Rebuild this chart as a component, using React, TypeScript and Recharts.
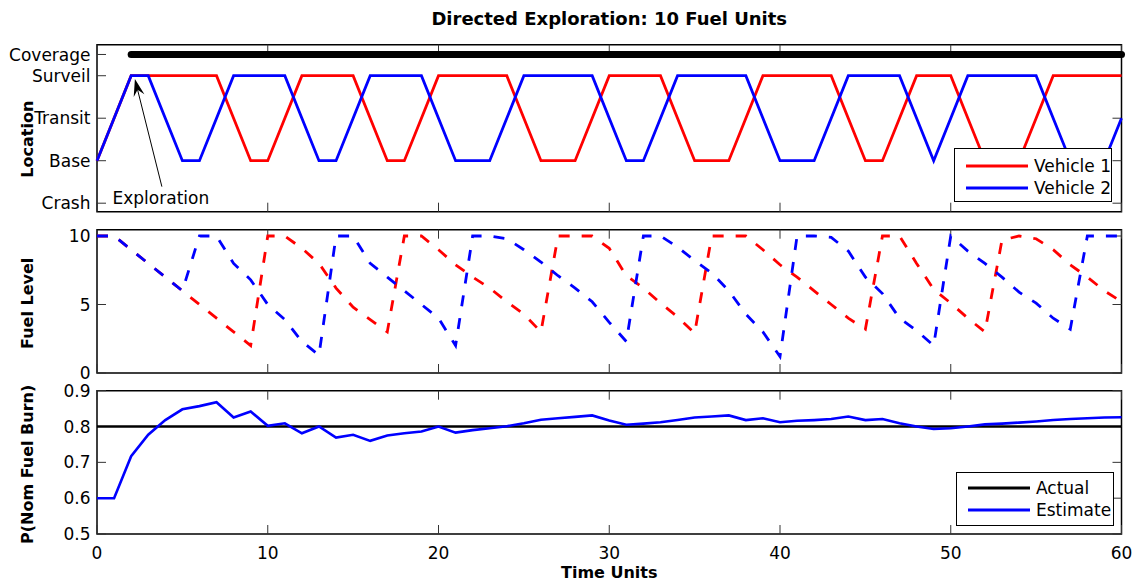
import React from "react";
import { LineChart, Line, XAxis, YAxis, Legend, ReferenceLine, ReferenceArea } from "recharts";

const FONT = "'DejaVu Sans', sans-serif";

// ---- data ----
const time = [
  0, 1, 2, 3, 4, 5, 6, 7, 8, 9, 10, 11, 12, 13, 14, 15, 16, 17, 18, 19, 20,
  21, 22, 23, 24, 25, 26, 27, 28, 29, 30, 31, 32, 33, 34, 35, 36, 37, 38, 39,
  40, 41, 42, 43, 44, 45, 46, 47, 48, 49, 50, 51, 52, 53, 54, 55, 56, 57, 58,
  59, 60,
];

// 0 = Crash, 1 = Base, 2 = Transit, 3 = Surveil
const vehicle1Location = [
  1, 2, 3, 3, 3, 3, 3, 3, 2, 1,
  1, 2, 3, 3, 3, 3, 2, 1, 1, 2,
  3, 3, 3, 3, 3, 2, 1, 1, 1, 2,
  3, 3, 3, 3, 2, 1, 1, 1, 2, 3,
  3, 3, 3, 3, 2, 1, 1, 2, 3, 3,
  3, 2, 1, 1, 1, 2, 3, 3, 3, 3,
  3,
];
const vehicle2Location = [
  1, 2, 3, 3, 2, 1, 1, 2, 3, 3,
  3, 3, 2, 1, 1, 2, 3, 3, 3, 3,
  2, 1, 1, 1, 2, 3, 3, 3, 3, 3,
  2, 1, 1, 2, 3, 3, 3, 3, 3, 2,
  1, 1, 1, 2, 3, 3, 3, 3, 2, 1,
  2, 3, 3, 3, 3, 3, 2, 1, 1, 1,
  2,
];
const coverage = [
  null, null, 3.5, 3.5, 3.5, 3.5, 3.5, 3.5, 3.5, 3.5,
  3.5, 3.5, 3.5, 3.5, 3.5, 3.5, 3.5, 3.5, 3.5, 3.5,
  3.5, 3.5, 3.5, 3.5, 3.5, 3.5, 3.5, 3.5, 3.5, 3.5,
  3.5, 3.5, 3.5, 3.5, 3.5, 3.5, 3.5, 3.5, 3.5, 3.5,
  3.5, 3.5, 3.5, 3.5, 3.5, 3.5, 3.5, 3.5, 3.5, 3.5,
  3.5, 3.5, 3.5, 3.5, 3.5, 3.5, 3.5, 3.5, 3.5, 3.5,
  3.5,
];

const vehicle1Fuel = [
  10, 10, 9, 8, 7, 6, 5, 4, 3, 2,
  10, 10, 9.1, 8, 6.2, 4.8, 3.9, 3, 10, 10,
  9, 7.9, 7, 6.2, 5.2, 4.3, 3, 10, 10, 10,
  9.1, 7.1, 6.2, 5.1, 4.1, 2.9, 10, 10, 10, 9,
  7.9, 7, 6, 5, 4, 3.2, 10, 10, 8, 6.1,
  5.1, 4, 3, 9.7, 10, 9.8, 9, 7.9, 7, 6,
  5.2,
];
const vehicle2Fuel = [
  10, 10, 9, 8, 7, 6, 10, 10, 8, 6.8,
  5, 3.9, 2.3, 1.3, 10, 10, 8, 7, 6, 5,
  4, 2, 10, 10, 9.8, 9, 8.1, 7.1, 6.2, 5.2,
  3.7, 2.3, 10, 10, 9.2, 8.2, 7.3, 6, 4.3, 3,
  1.2, 10, 10, 9.9, 8.9, 7, 5.8, 4, 3.1, 2,
  10, 8.9, 8, 7, 5.9, 5.1, 4, 3.2, 10, 10,
  10,
];

const actualBurn = [
  0.8, 0.8, 0.8, 0.8, 0.8, 0.8, 0.8, 0.8, 0.8, 0.8,
  0.8, 0.8, 0.8, 0.8, 0.8, 0.8, 0.8, 0.8, 0.8, 0.8,
  0.8, 0.8, 0.8, 0.8, 0.8, 0.8, 0.8, 0.8, 0.8, 0.8,
  0.8, 0.8, 0.8, 0.8, 0.8, 0.8, 0.8, 0.8, 0.8, 0.8,
  0.8, 0.8, 0.8, 0.8, 0.8, 0.8, 0.8, 0.8, 0.8, 0.8,
  0.8, 0.8, 0.8, 0.8, 0.8, 0.8, 0.8, 0.8, 0.8, 0.8,
  0.8,
];
const estimatedBurn = [
  0.6, 0.6, 0.717, 0.777, 0.818, 0.848, 0.857, 0.868, 0.825, 0.842,
  0.802, 0.809, 0.781, 0.8, 0.769, 0.777, 0.76, 0.775, 0.781, 0.786,
  0.8, 0.783, 0.79, 0.795, 0.801, 0.809, 0.819, 0.823, 0.827, 0.831,
  0.817, 0.805, 0.808, 0.812, 0.818, 0.825, 0.828, 0.831, 0.818, 0.823,
  0.812, 0.816, 0.818, 0.821, 0.828, 0.818, 0.821, 0.809, 0.8, 0.793,
  0.795, 0.8, 0.806, 0.808, 0.811, 0.814, 0.818, 0.821, 0.823, 0.825,
  0.826,
];

const timeTicks = [0, 10, 20, 30, 40, 50, 60];
const locationTicks = [0, 1, 2, 3, 3.5];
const locationNames = ["Crash", "Base", "Transit", "Surveil", "Coverage"];
const fuelTicks = [0, 5, 10];
const burnTicks = [0.5, 0.6, 0.7, 0.8, 0.9];

const timeDomain = [0, 60];
const locationDomain = [-0.2, 3.73];
const fuelDomain = [0, 10.46];
const burnDomain = [0.5, 0.9];

// annotation anchor points, in data units (time, location)
const explorationTail = { x: 3.8, y: 0.39 };
const explorationTip = { x: 2.22, y: 2.92 };

const locationRows = time.map((t, i) => ({
  t,
  v1: vehicle1Location[i],
  v2: vehicle2Location[i],
  cov: coverage[i],
}));
const fuelRows = time.map((t, i) => ({ t, v1: vehicle1Fuel[i], v2: vehicle2Fuel[i] }));
const burnRows = time.map((t, i) => ({ t, actual: actualBurn[i], est: estimatedBurn[i] }));

// ---- shared styling ----
const W = 1133;
const TICK = 9;
const tickColor = "#333";
const textStyle = { fontFamily: FONT, fontSize: 17, fill: "#000" };

const noLabel = () => <g />;

function BottomLabel({ x, y, payload }: any) {
  return (
    <text x={x} y={y + 25} textAnchor="middle" {...textStyle}>
      {payload.value}
    </text>
  );
}

function LeftLabel({ x, y, payload, format }: any) {
  return (
    <text x={x - 6.5} y={y} dy="0.36em" textAnchor="end" {...textStyle}>
      {format(payload.value)}
    </text>
  );
}

// inward ticks on top and bottom edges, drawn from a vertical reference line
function VerticalTicks({ x1, y1, y2 }: any) {
  const top = Math.min(y1, y2);
  const bottom = Math.max(y1, y2);
  return (
    <g>
      <line x1={x1} x2={x1} y1={top} y2={top + TICK} stroke={tickColor} strokeWidth={1} />
      <line x1={x1} x2={x1} y1={bottom} y2={bottom - TICK} stroke={tickColor} strokeWidth={1} />
    </g>
  );
}

// inward ticks on left and right edges, drawn from a horizontal reference line
function HorizontalTicks({ x1, x2, y1 }: any) {
  const left = Math.min(x1, x2);
  const right = Math.max(x1, x2);
  return (
    <g>
      <line x1={left} x2={left + TICK} y1={y1} y2={y1} stroke={tickColor} strokeWidth={1} />
      <line x1={right} x2={right - TICK} y1={y1} y2={y1} stroke={tickColor} strokeWidth={1} />
    </g>
  );
}

function YTitle({ viewBox, value, dy }: any) {
  const cx = viewBox.x + 28;
  const cy = viewBox.y + viewBox.height / 2 + dy;
  return (
    <text
      x={cx}
      y={cy}
      transform={`rotate(-90 ${cx} ${cy})`}
      textAnchor="middle"
      dominantBaseline="central"
      fontFamily={FONT}
      fontSize={16}
      fontWeight="bold"
      fill="#000"
    >
      {value}
    </text>
  );
}

function XTitle({ viewBox }: any) {
  return (
    <text
      x={viewBox.x + viewBox.width / 2}
      y={viewBox.y + 43.5}
      textAnchor="middle"
      fontFamily={FONT}
      fontSize={16}
      fontWeight="bold"
      fill="#000"
    >
      Time Units
    </text>
  );
}

function ExplorationArrow({ x1, y1, x2, y2 }: any) {
  const dx = x2 - x1;
  const dy = y2 - y1;
  const len = Math.hypot(dx, dy) || 1;
  const ux = dx / len;
  const uy = dy / len;
  const px = -uy;
  const py = ux;
  const head = 17;
  const half = 5.5;
  const notch = 11;
  const bx = x2 - ux * head;
  const by = y2 - uy * head;
  const nx = x2 - ux * notch;
  const ny = y2 - uy * notch;
  const pts = `${x2},${y2} ${bx + px * half},${by + py * half} ${nx},${ny} ${bx - px * half},${by - py * half}`;
  return (
    <g>
      <line x1={x1} y1={y1} x2={nx} y2={ny} stroke="#000" strokeWidth={1} />
      <polygon points={pts} fill="#000" />
      <text x={x1 - 1} y={y1 + 17} textAnchor="middle" {...textStyle}>
        Exploration
      </text>
    </g>
  );
}

function LegendBox({ payload, rowTop }: any) {
  const items = (payload || []).filter((e: any) => e.type !== "none" && e.value !== "Coverage");
  return (
    <div
      style={{
        border: "1px solid #000",
        background: "#fff",
        width: 158,
        height: 54,
        boxSizing: "border-box",
        paddingTop: rowTop,
      }}
    >
      {items.map((entry: any) => (
        <div key={entry.value} style={{ display: "flex", alignItems: "center", height: 22, whiteSpace: "nowrap" }}>
          <svg width={79} height={10} style={{ flex: "none" }}>
            <line x1={11} x2={73} y1={5} y2={5} stroke={entry.color} strokeWidth={3} />
          </svg>
          <span style={{ fontFamily: FONT, fontSize: 17, lineHeight: "22px", color: "#000" }}>
            {entry.value}
          </span>
        </div>
      ))}
    </div>
  );
}

const locationLabel = (v: number) => locationNames[locationTicks.indexOf(v)];
const plainLabel = (v: number) => String(v);

// box and inward ticks, MATLAB style
function frameParts(yDomain: number[], yTicks: number[]) {
  return [
    <ReferenceArea key="box" xAxisId="x" yAxisId="y" x1={timeDomain[0]} x2={timeDomain[1]}
      y1={yDomain[0]} y2={yDomain[1]} fill="none" fillOpacity={0} stroke="#000" strokeWidth={1.5}
      ifOverflow="visible" />,
    ...timeTicks.map((t) => (
      <ReferenceLine key={`vx${t}`} xAxisId="x" yAxisId="y" x={t} ifOverflow="visible"
        shape={(p: any) => <VerticalTicks {...p} />} />
    )),
    ...yTicks.map((v) => (
      <ReferenceLine key={`hy${v}`} xAxisId="x" yAxisId="y" y={v} ifOverflow="visible"
        shape={(p: any) => <HorizontalTicks {...p} />} />
    )),
  ];
}

function LocationPanel() {
  return (
    <LineChart width={W} height={222} data={locationRows} margin={{ top: 44.7, right: 11.5, bottom: 10.3, left: 0 }}>
      <XAxis xAxisId="x" dataKey="t" type="number" domain={timeDomain} ticks={timeTicks} interval={0}
        height={0} axisLine={false} tickLine={false} tick={noLabel} />
      <YAxis yAxisId="y" type="number" domain={locationDomain} ticks={locationTicks} interval={0}
        width={97} axisLine={false} tickLine={false} tickSize={0} tickMargin={0}
        tick={(p: any) => <LeftLabel {...p} format={locationLabel} />}
        label={(p: any) => <YTitle {...p} value="Location" dy={11} />} />
      {frameParts(locationDomain, locationTicks)}
      <Line xAxisId="x" yAxisId="y" dataKey="cov" name="Coverage" legendType="none" stroke="#000"
        strokeWidth={7} strokeLinecap="round" dot={false} isAnimationActive={false} />
      <Line xAxisId="x" yAxisId="y" type="linear" dataKey="v1" name="Vehicle 1" stroke="#ff0000"
        strokeWidth={2.8} dot={false} isAnimationActive={false} />
      <Line xAxisId="x" yAxisId="y" type="linear" dataKey="v2" name="Vehicle 2" stroke="#0000ff"
        strokeWidth={2.8} dot={false} isAnimationActive={false} />
      <ReferenceLine xAxisId="x" yAxisId="y" segment={[explorationTail, explorationTip]}
        ifOverflow="visible" shape={(p: any) => <ExplorationArrow {...p} />} />
      <Legend layout="vertical" align="center" verticalAlign="middle"
        wrapperStyle={{ position: "absolute", left: 954, top: 148, width: 158 }}
        content={(p: any) => <LegendBox {...p} rowTop={6} />} />
    </LineChart>
  );
}

function FuelPanel() {
  return (
    <LineChart width={W} height={175} data={fuelRows} margin={{ top: 14.7, right: 11.5, bottom: 17, left: 0 }}>
      <XAxis xAxisId="x" dataKey="t" type="number" domain={timeDomain} ticks={timeTicks} interval={0}
        height={0} axisLine={false} tickLine={false} tick={noLabel} />
      <YAxis yAxisId="y" type="number" domain={fuelDomain} ticks={fuelTicks} interval={0}
        width={97} axisLine={false} tickLine={false} tickSize={0} tickMargin={0}
        tick={(p: any) => <LeftLabel {...p} format={plainLabel} />}
        label={(p: any) => <YTitle {...p} value="Fuel Level" dy={2} />} />
      {frameParts(fuelDomain, fuelTicks)}
      <Line xAxisId="x" yAxisId="y" type="linear" dataKey="v1" name="Vehicle 1" stroke="#ff0000"
        strokeWidth={2.8} strokeDasharray="11 12" dot={false} isAnimationActive={false} />
      <Line xAxisId="x" yAxisId="y" type="linear" dataKey="v2" name="Vehicle 2" stroke="#0000ff"
        strokeWidth={2.8} strokeDasharray="11 12" dot={false} isAnimationActive={false} />
    </LineChart>
  );
}

function BurnPanel() {
  return (
    <LineChart width={W} height={201} data={burnRows} margin={{ top: 10.7, right: 11.5, bottom: 0, left: 0 }}>
      <XAxis xAxisId="x" dataKey="t" type="number" domain={timeDomain} ticks={timeTicks} interval={0}
        height={47} axisLine={false} tickLine={false} tickSize={0} tickMargin={0}
        tick={(p: any) => <BottomLabel {...p} />}
        label={(p: any) => <XTitle {...p} />} />
      <YAxis yAxisId="y" type="number" domain={burnDomain} ticks={burnTicks} interval={0}
        width={97} axisLine={false} tickLine={false} tickSize={0} tickMargin={0}
        tick={(p: any) => <LeftLabel {...p} format={plainLabel} />}
        label={(p: any) => <YTitle {...p} value="P(Nom Fuel Burn)" dy={2} />} />
      {frameParts(burnDomain, burnTicks)}
      <Line xAxisId="x" yAxisId="y" type="linear" dataKey="actual" name="Actual" stroke="#000000"
        strokeWidth={2.6} dot={false} isAnimationActive={false} />
      <Line xAxisId="x" yAxisId="y" type="linear" dataKey="est" name="Estimate" stroke="#0000ff"
        strokeWidth={2.6} dot={false} isAnimationActive={false} />
      <Legend layout="vertical" align="center" verticalAlign="middle"
        wrapperStyle={{ position: "absolute", left: 956, top: 92, width: 158 }}
        content={(p: any) => <LegendBox {...p} rowTop={4} />} />
    </LineChart>
  );
}

export default function App() {
  return (
    <div style={{ position: "absolute", left: 0, top: 0, width: W, height: 581, background: "#fff", overflow: "hidden" }}>
      <div
        style={{
          position: "absolute",
          left: 97,
          top: 9,
          width: 1024.5,
          textAlign: "center",
          fontFamily: FONT,
          fontWeight: "bold",
          fontSize: 18,
          lineHeight: "20px",
          color: "#000",
        }}
      >
        Directed Exploration: 10 Fuel Units
      </div>
      <div style={{ position: "absolute", left: 0, top: 0 }}>
        <LocationPanel />
      </div>
      <div style={{ position: "absolute", left: 0, top: 215 }}>
        <FuelPanel />
      </div>
      <div style={{ position: "absolute", left: 0, top: 380 }}>
        <BurnPanel />
      </div>
    </div>
  );
}
